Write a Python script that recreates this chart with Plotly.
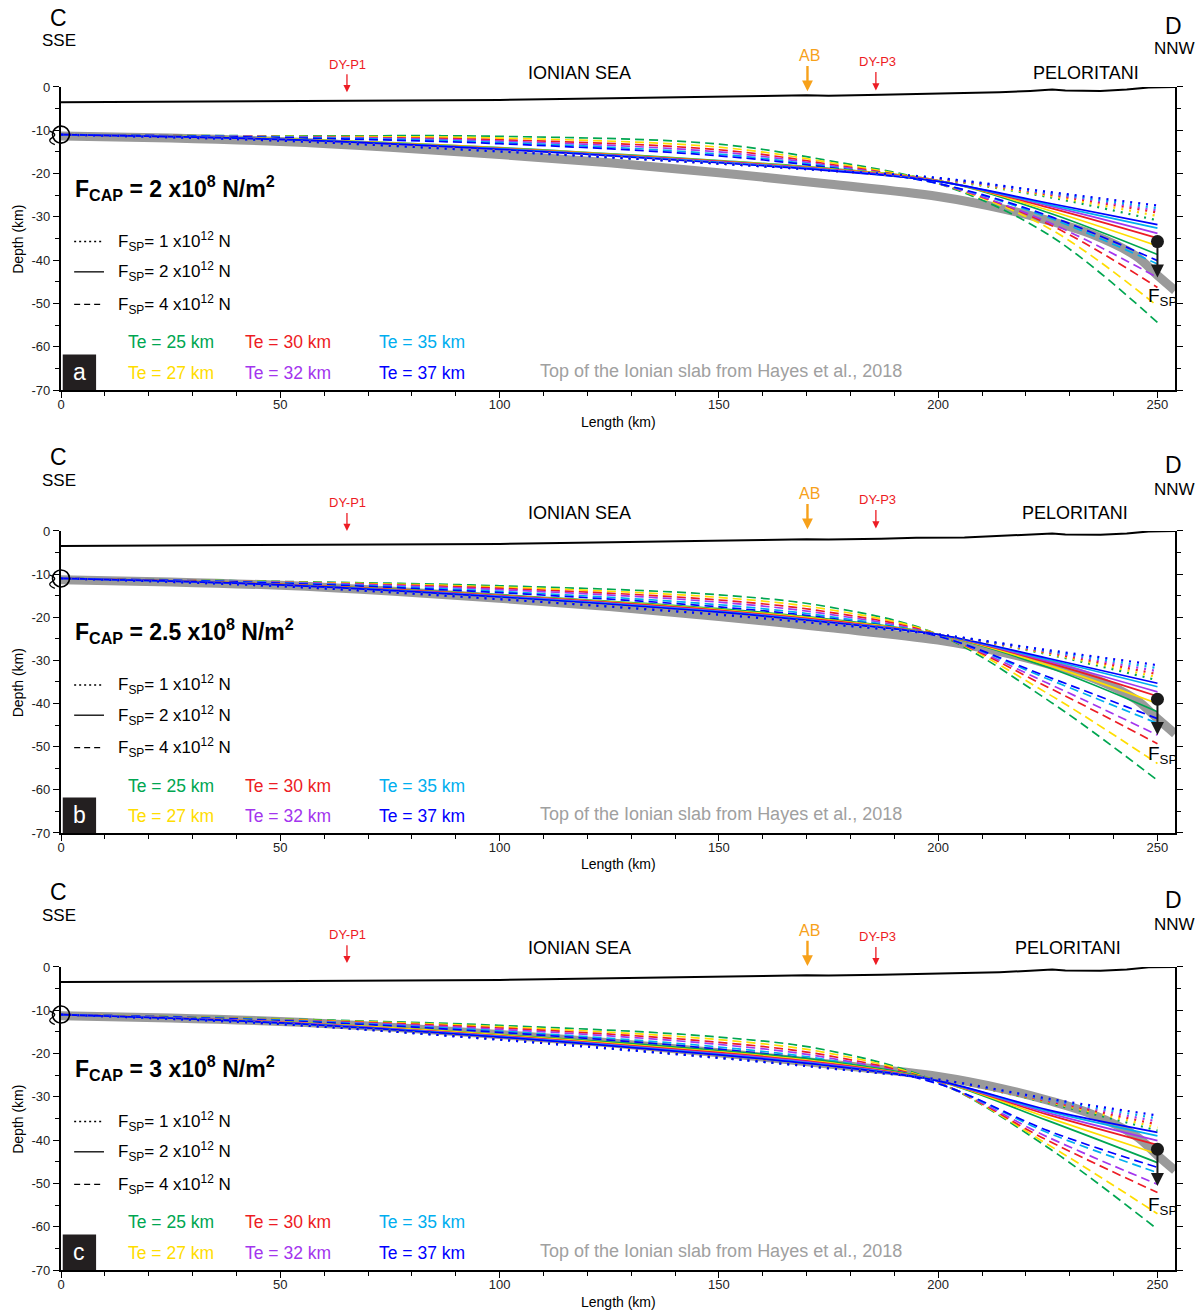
import plotly.graph_objects as go

# ---------------- data ----------------
XS = [0, 50, 100, 150, 175, 200, 225, 250]          # sample positions along profile (km)
TE_VALUES = [25, 27, 30, 32, 35, 37]                  # elastic thickness (km)
TE_COLORS = ["#00A651", "#FFDD00", "#ED1C24", "#A335EE", "#00AEEF", "#0000FF"]

# Panel a : F_CAP = 2 x10^8 N/m^2   (rows follow TE_VALUES)
A_FSP1 = [[-11, -12.4, -14.8, -17.6, -19.3, -21.4, -25.4, -30.8],
          [-11, -12.4, -14.8, -17.6, -19.3, -21.3, -25.1, -29.8],
          [-11, -12.4, -14.8, -17.7, -19.3, -21.2, -24.8, -29.0],
          [-11, -12.4, -14.8, -17.7, -19.3, -21.1, -24.6, -28.5],
          [-11, -12.4, -14.9, -17.7, -19.3, -21.0, -24.4, -28.0],
          [-11, -12.4, -14.9, -17.7, -19.3, -21.0, -24.2, -27.4]]
A_FSP2 = [[-11, -12.0, -14.0, -17.0, -18.8, -21.6, -29.0, -38.7],
          [-11, -12.0, -14.1, -17.1, -18.9, -21.6, -28.4, -36.7],
          [-11, -12.1, -14.2, -17.2, -19.0, -21.7, -27.8, -34.9],
          [-11, -12.1, -14.3, -17.3, -19.1, -21.7, -27.4, -33.8],
          [-11, -12.1, -14.3, -17.4, -19.2, -21.8, -27.1, -32.6],
          [-11, -12.1, -14.4, -17.5, -19.3, -21.8, -26.8, -31.8]]
A_FSP4 = [[-11, -11.3, -11.4, -13.2, -17.0, -22.3, -34.0, -54.4],
          [-11, -11.4, -11.8, -13.9, -17.4, -22.3, -32.5, -50.6],
          [-11, -11.5, -12.2, -14.5, -17.8, -22.3, -31.6, -46.3],
          [-11, -11.5, -12.5, -15.0, -18.1, -22.3, -31.2, -44.0],
          [-11, -11.6, -12.8, -15.5, -18.4, -22.3, -30.1, -40.9],
          [-11, -11.7, -13.1, -15.9, -18.6, -22.3, -29.7, -40.1]]

# Panel b : F_CAP = 2.5 x10^8 N/m^2
B_FSP1 = [[-11, -12.8, -15.7, -19.2, -21.4, -24.0, -28.6, -34.6],
          [-11, -12.8, -15.7, -19.3, -21.5, -24.0, -28.4, -33.9],
          [-11, -12.8, -15.8, -19.3, -21.5, -24.0, -28.2, -33.2],
          [-11, -12.8, -15.8, -19.4, -21.6, -24.0, -28.0, -32.5],
          [-11, -12.8, -15.8, -19.4, -21.6, -24.0, -27.8, -31.8],
          [-11, -12.8, -15.8, -19.4, -21.6, -24.0, -27.6, -31.1]]
B_FSP2 = [[-11, -12.4, -14.8, -18.0, -20.4, -24.0, -31.6, -41.9],
          [-11, -12.4, -14.9, -18.2, -20.6, -24.0, -31.1, -40.0],
          [-11, -12.4, -15.0, -18.4, -20.8, -24.0, -30.5, -38.3],
          [-11, -12.5, -15.1, -18.6, -21.0, -24.0, -30.2, -37.3],
          [-11, -12.5, -15.2, -18.7, -21.1, -24.0, -29.8, -36.1],
          [-11, -12.5, -15.3, -18.8, -21.2, -24.0, -29.5, -35.3]]
B_FSP4 = [[-11, -11.7, -12.7, -14.8, -17.6, -24.0, -39.2, -57.8],
          [-11, -11.8, -13.0, -15.4, -18.2, -24.0, -37.7, -53.9],
          [-11, -11.9, -13.3, -16.0, -18.8, -24.1, -36.2, -49.3],
          [-11, -11.9, -13.6, -16.5, -19.3, -24.2, -35.3, -47.3],
          [-11, -12.0, -14.0, -17.1, -19.8, -24.3, -34.3, -44.6],
          [-11, -12.1, -14.3, -17.6, -20.2, -24.4, -33.8, -43.5]]

# Panel c : F_CAP = 3 x10^8 N/m^2
C_FSP1 = [[-11, -13.1, -16.6, -20.8, -23.2, -26.0, -31.4, -37.8],
          [-11, -13.1, -16.7, -20.9, -23.3, -26.0, -31.2, -37.1],
          [-11, -13.2, -16.7, -20.9, -23.3, -26.0, -31.0, -36.4],
          [-11, -13.2, -16.8, -21.0, -23.4, -26.0, -30.8, -35.7],
          [-11, -13.2, -16.8, -21.0, -23.4, -26.0, -30.6, -35.0],
          [-11, -13.2, -16.8, -21.0, -23.4, -26.0, -30.4, -34.3]]
C_FSP2 = [[-11, -12.7, -15.6, -19.3, -21.8, -26.3, -35.5, -45.2],
          [-11, -12.7, -15.7, -19.6, -22.1, -26.3, -34.8, -43.2],
          [-11, -12.8, -15.9, -19.8, -22.3, -26.3, -34.1, -41.1],
          [-11, -12.8, -16.0, -20.0, -22.5, -26.3, -33.7, -40.1],
          [-11, -12.9, -16.1, -20.2, -22.7, -26.3, -33.3, -39.0],
          [-11, -12.9, -16.2, -20.3, -22.8, -26.3, -33.0, -38.2]]
C_FSP4 = [[-11, -12.0, -13.5, -16.2, -19.3, -26.6, -41.7, -60.6],
          [-11, -12.1, -13.8, -16.8, -19.9, -26.6, -41.0, -57.0],
          [-11, -12.2, -14.1, -17.4, -20.5, -26.7, -40.1, -52.1],
          [-11, -12.3, -14.4, -17.9, -21.0, -26.8, -39.3, -50.2],
          [-11, -12.3, -14.8, -18.5, -21.5, -26.9, -38.3, -47.5],
          [-11, -12.4, -15.1, -19.0, -21.9, -27.0, -37.8, -46.3]]

# Top of the Ionian slab (Hayes et al., 2018)
SLAB_X = [0, 25, 50, 75, 100, 125, 150, 175, 200, 215, 225, 235, 245, 250, 254]
SLAB_Y = [-11.3, -11.8, -12.6, -13.9, -15.6, -17.5, -19.8, -22.4, -25.3, -28.2, -30.8, -34.0, -39.0, -43.5, -47.0]

# Topography / bathymetry
TOPO_X = [0, 25, 55, 77, 100, 114, 130, 146, 160, 170, 175, 187, 195, 206, 214, 221, 226, 229, 237, 243, 248, 254]
TOPO_Y = [-3.5, -3.4, -3.2, -3.2, -3.0, -2.8, -2.6, -2.3, -2.1, -1.9, -2.0, -1.8, -1.6, -1.5, -1.2, -0.9, -0.6, -0.8, -0.9, -0.6, -0.1, 0.0]

FCAP_LABELS = ["2", "2.5", "3"]
PANEL_LETTERS = ["a", "b", "c"]
FSP_VALUES = [1, 2, 4]
FSP_POINT_Y = [-35.7, -39.0, -42.1]     # where F_SP is applied (x = 250 km)
FSP_ARROW_Y = [-44.0, -47.3, -50.6]
PROFILE_START = (0, -11)
MARKERS = {"DY-P1": 65.2, "AB": 170.2, "DY-P3": 185.8}

PANEL_DATA = [[A_FSP1, A_FSP2, A_FSP4], [B_FSP1, B_FSP2, B_FSP4], [C_FSP1, C_FSP2, C_FSP4]]

# ---------------- styling ----------------
FONT = "Liberation Sans, Arial, sans-serif"
DASH_STYLE = {1: "2px,6px", 2: "solid", 4: "9px,5px"}
Y_DOMAINS = [[0.7027, 0.9337], [0.3651, 0.5953], [0.0320, 0.2630]]
X_RANGE = [0, 254]
Y_RANGE = [-70, 0]
PX_PER_KM_Y = 4.31
HEAD_Y = {
    "C": [16.0, 17.2, 17.2], "SSE": [10.7, 11.6, 11.8],
    "D": [14.2, 15.3, 15.5], "NNW": [8.8, 9.5, 9.7],
    "DY-P1": [5.3, 6.5, 7.4], "AB": [7.2, 8.6, 8.4], "DY-P3": [5.8, 7.2, 7.0],
    "ION": [3.2, 4.2, 4.4], "PEL": [3.2, 4.2, 4.4],
}
PEL_X = [233.7, 231.2, 229.6]


def to_paper(p, x, y):
    xp = (x - X_RANGE[0]) / (X_RANGE[1] - X_RANGE[0])
    d0, d1 = Y_DOMAINS[p]
    yp = d0 + (y - Y_RANGE[0]) / (Y_RANGE[1] - Y_RANGE[0]) * (d1 - d0)
    return xp, yp


fig = go.Figure()
annotations = []
shapes = []

for p in range(3):
    xr = "x" if p == 0 else f"x{p+1}"
    yr = "y" if p == 0 else f"y{p+1}"

    # slab
    fig.add_trace(go.Scatter(x=SLAB_X, y=SLAB_Y, mode="lines", line=dict(color="#9a9a9a", width=9, shape="spline"),
                             xaxis=xr, yaxis=yr, showlegend=False, hoverinfo="skip", cliponaxis=True))
    # topography
    fig.add_trace(go.Scatter(x=TOPO_X, y=TOPO_Y, mode="lines", line=dict(color="black", width=2),
                             xaxis=xr, yaxis=yr, showlegend=False, hoverinfo="skip", cliponaxis=False))
    # flexure curves
    for fi in [2, 1, 0]:
        fsp = FSP_VALUES[fi]
        rows = PANEL_DATA[p][fi]
        for ti, row in enumerate(rows):
            fig.add_trace(go.Scatter(
                x=XS, y=row, mode="lines",
                line=dict(color=TE_COLORS[ti], width=1.7 if fsp != 1 else 2.2, dash=DASH_STYLE[fsp],
                          shape="spline", smoothing=1.0),
                xaxis=xr, yaxis=yr, showlegend=False,
                name=f"Te={TE_VALUES[ti]} km, Fsp={fsp}e12 N"))
    # start circle
    fig.add_trace(go.Scatter(x=[PROFILE_START[0]], y=[PROFILE_START[1]], mode="markers",
                             marker=dict(symbol="circle-open", size=17, color="black", line=dict(width=1.6)),
                             xaxis=xr, yaxis=yr, showlegend=False, cliponaxis=False, hoverinfo="skip"))
    # F_SP application point
    fig.add_trace(go.Scatter(x=[250], y=[FSP_POINT_Y[p]], mode="markers",
                             marker=dict(symbol="circle", size=13, color="#1a1a1a"),
                             xaxis=xr, yaxis=yr, showlegend=False, cliponaxis=False, hoverinfo="skip"))

    def arrow(x, y_tip, y_tail, color, width, size):
        xp, yp = to_paper(p, x, y_tip)
        annotations.append(dict(x=xp, y=yp, xref="paper", yref="paper", ax=0,
                                ay=-(y_tail - y_tip) * PX_PER_KM_Y, text="", showarrow=True,
                                arrowhead=2, arrowsize=size, arrowwidth=width, arrowcolor=color))

    def txt(x, y, s, size, color="black", **kw):
        xp, yp = to_paper(p, x, y)
        d = dict(x=xp, y=yp, xref="paper", yref="paper", text=s, showarrow=False,
                 font=dict(family=FONT, size=size, color=color), xanchor="center", yanchor="middle")
        d.update(kw)
        annotations.append(d)

    arrow(250, FSP_ARROW_Y[p], FSP_POINT_Y[p], "#1a1a1a", 2, 1.3)
    txt(247.3, FSP_ARROW_Y[p] - 4.6, "F<sub>SP</sub>", 19, xanchor="left")

    # small break mark next to the profile start circle (drawn as a path)
    pts = [to_paper(p, x, y) for x, y in [(-2.6, -10.2), (-0.6, -10.9), (-2.0, -11.7), (-3.4, -12.5), (-1.4, -13.3)]]
    path = (f"M {pts[0][0]},{pts[0][1]} Q {pts[1][0]},{pts[1][1]} {pts[2][0]},{pts[2][1]} "
            f"Q {pts[3][0]},{pts[3][1]} {pts[4][0]},{pts[4][1]}")
    shapes.append(dict(type="path", xref="paper", yref="paper", path=path,
                       line=dict(color="black", width=1.2)))

    # header labels
    txt(-0.5, HEAD_Y["C"][p], "C", 23)
    txt(-0.5, HEAD_Y["SSE"][p], "SSE", 17)
    txt(253.7, HEAD_Y["D"][p], "D", 23)
    txt(253.9, HEAD_Y["NNW"][p], "NNW", 17)
    txt(118.3, HEAD_Y["ION"][p], "IONIAN SEA", 18)
    txt(PEL_X[p], HEAD_Y["PEL"][p], "PELORITANI", 18)
    txt(MARKERS["DY-P1"] + 0.1, HEAD_Y["DY-P1"][p], "DY-P1", 13, "#ED1C24")
    txt(MARKERS["AB"] + 0.4, HEAD_Y["AB"][p], "AB", 16, "#F7A11A")
    txt(MARKERS["DY-P3"] + 0.3, HEAD_Y["DY-P3"][p], "DY-P3", 13, "#ED1C24")
    for key, col, w, drop, sz in [("DY-P1", "#ED1C24", 1.3, 6.5, 1.1), ("AB", "#F7A11A", 2.4, 8.2, 0.9),
                                  ("DY-P3", "#ED1C24", 1.3, 6.6, 1.1)]:
        ytxt = HEAD_Y[key][p]
        arrow(MARKERS[key], ytxt - drop, ytxt - 2.0, col, w, sz)

    # F_CAP label
    txt(2.7, -23.3, f"<b>F<sub>CAP</sub> = {FCAP_LABELS[p]} x10<sup>8</sup> N/m<sup>2</sup></b>", 23,
        xanchor="left")
    # F_SP legend
    for fsp, yy in zip(FSP_VALUES, [-35.7, -42.7, -50.2]):
        shapes.append(dict(type="line", xref=xr, yref=yr, x0=3.0, x1=9.8, y0=yy, y1=yy,
                           line=dict(color="black", width=1.3 if fsp != 1 else 1.6,
                                     dash={1: "2px,3px", 2: "solid", 4: "6px,4px"}[fsp])))
        txt(12.5, yy, f"F<sub>SP</sub>= {fsp} x10<sup>12</sup> N", 17, xanchor="left")
    # Te labels
    te_pos = [(25.0, -59.0), (25.0, -66.0), (51.7, -59.0), (51.7, -66.0), (82.4, -59.0), (82.4, -66.0)]
    for ti, (tx, ty) in enumerate(te_pos):
        txt(tx, ty, f"Te = {TE_VALUES[ti]} km", 17.5, TE_COLORS[ti])
    txt(150.5, -65.7, "Top of the Ionian slab from Hayes et al., 2018", 18, "#a0a0a0")
    # panel letter
    shapes.append(dict(type="rect", xref=xr, yref=yr, x0=0.4, x1=8.0, y0=-70, y1=-61.8,
                       fillcolor="#231f20", line=dict(width=0)))
    txt(4.2, -65.9, PANEL_LETTERS[p], 23, "white")
    # axis titles
    txt(127, -77.3, "Length (km)", 14)
    txt(-9.8, -35.3, "Depth (km)", 14, textangle=-90)

layout_axes = {}
for p in range(3):
    xk = "xaxis" if p == 0 else f"xaxis{p+1}"
    yk = "yaxis" if p == 0 else f"yaxis{p+1}"
    ya = "y" if p == 0 else f"y{p+1}"
    xa = "x" if p == 0 else f"x{p+1}"
    layout_axes[xk] = dict(domain=[0, 1], anchor=ya, range=X_RANGE, showgrid=False, zeroline=False,
                           showline=True, linecolor="black", linewidth=2.2, ticks="outside", ticklen=6,
                           tickwidth=1.3, tickcolor="black", tickvals=[0, 50, 100, 150, 200, 250],
                           minor=dict(dtick=10, tick0=0, ticks="outside", ticklen=4, tickcolor="black"),
                           tickfont=dict(family=FONT, size=13, color="#222"), mirror=False,
                           ticklabelstandoff=-5, automargin=False)
    layout_axes[yk] = dict(domain=Y_DOMAINS[p], anchor=xa, range=Y_RANGE, showgrid=False, zeroline=False,
                           showline=True, linecolor="black", linewidth=2.2, ticks="outside", ticklen=6,
                           tickwidth=1.3, tickcolor="black",
                           tickvals=[0, -10, -20, -30, -40, -50, -60, -70],
                           ticktext=["0", "-10", "-20", "-30", "-40", "-50", "-60", "-70"],
                           minor=dict(dtick=5, tick0=0, ticks="outside", ticklen=4, tickcolor="black"),
                           tickfont=dict(family=FONT, size=13, color="#222"), mirror="ticks",
                           automargin=False)

fig.update_layout(width=1203, height=1312, margin=dict(l=61, r=28, t=0, b=0, autoexpand=False),
                  paper_bgcolor="white", plot_bgcolor="white", showlegend=False,
                  annotations=annotations, shapes=shapes, **layout_axes)

fig.write_html("out.html")
